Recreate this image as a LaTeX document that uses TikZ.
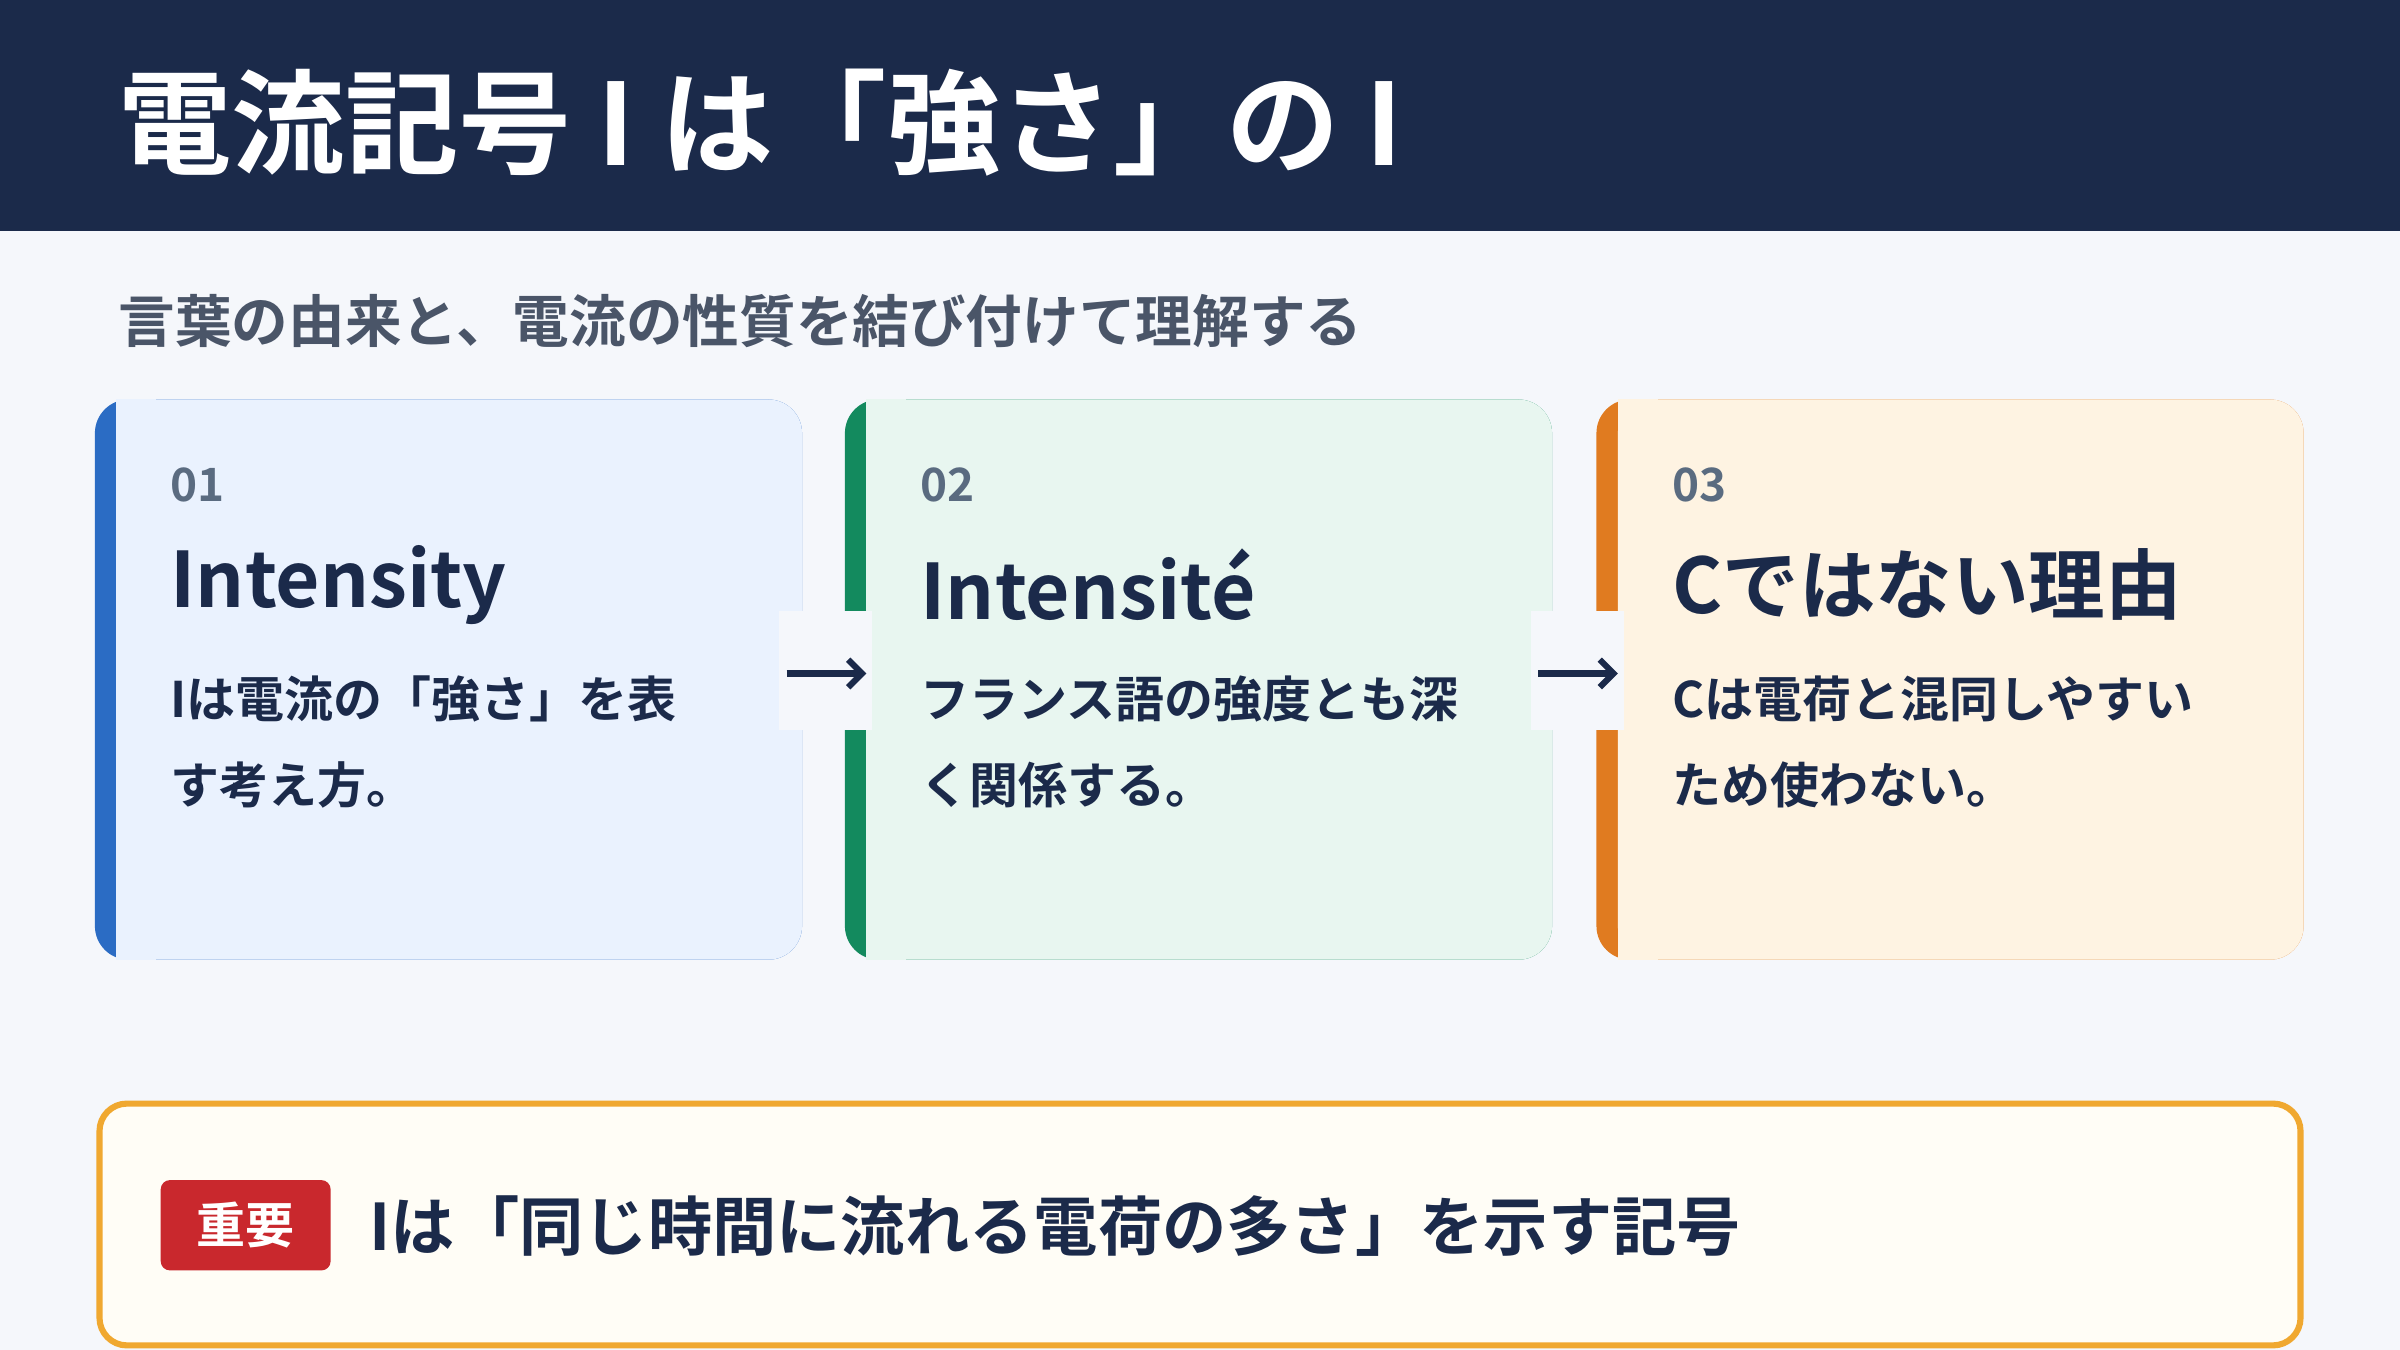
\documentclass[tikz,border=0pt]{standalone}
\usepackage{fontspec}
\setmainfont{Noto Sans CJK JP}[BoldFont={Noto Sans CJK JP Bold}]
\usetikzlibrary{arrows.meta}
\definecolor{navy}{HTML}{1B2A4A}
\definecolor{pagebg}{HTML}{F5F7FB}
\definecolor{subgray}{HTML}{4A5568}
\definecolor{numgray}{HTML}{5A6B80}
\definecolor{cblue}{HTML}{2B6CC4}\definecolor{fblue}{HTML}{EAF2FE}
\definecolor{cgreen}{HTML}{138A5E}\definecolor{fgreen}{HTML}{E8F6F0}
\definecolor{corange}{HTML}{E07B20}\definecolor{forange}{HTML}{FEF3E2}
\definecolor{gold}{HTML}{F0A830}\definecolor{noteBg}{HTML}{FFFDF6}
\definecolor{badge}{HTML}{C9282D}
\tikzset{
 num/.style={anchor=west,font=\fontsize{30}{30}\selectfont\bfseries,text=numgray},
 ttl/.style={anchor=west,font=\fontsize{50}{50}\selectfont\bfseries,text=navy},
 body/.style={anchor=north west,align=left,font=\fontsize{32}{56}\selectfont\bfseries,text=navy},
 arr/.style={-{Straight Barb[length=9pt,width=18pt,line width=4pt]},line width=4.5pt,navy},
 gap/.style={fill=pagebg,draw=none}
}
\begin{document}
\begin{tikzpicture}[x=1pt,y=-1pt]
\useasboundingbox (0,0) rectangle (1568,882);
\fill[pagebg] (0,0) rectangle (1568,882);
\fill[navy] (0,0) rectangle (1568,151);
\node[anchor=west,text=white,font=\fontsize{74}{74}\selectfont\bfseries] (title) at (74,80) {電流記号 I は「強さ」の I};
\node[anchor=west,text=subgray,font=\fontsize{37}{37}\selectfont\bfseries] (sub) at (74,210) {言葉の由来と、電流の性質を結び付けて理解する};
% cards
\foreach \x/\c/\f in {62/cblue/fblue,552/cgreen/fgreen,1043/corange/forange}{
  \fill[\c,rounded corners=22pt] (\x,261) rectangle (\x+462,627);
  \fill[\f,rounded corners=22pt] (\x+14,261) rectangle (\x+462,627);
  \fill[\f] (\x+14,261) rectangle (\x+40,627);
}
\node[num] (n1) at (108,317) {01};
\node[ttl] (t1) at (108,382) {Intensity};
\node[body] (b1) at (108,438) {Iは電流の「強さ」を表\\す考え方。};
\node[num] (n2) at (598,317) {02};
\node[ttl] (t2) at (598,382) {Intensité};
\node[body] (b2) at (598,438) {フランス語の強度とも深\\く関係する。};
\node[num] (n3) at (1089,317) {03};
\node[ttl] (t3) at (1089,382) {Cではない理由};
\node[body] (b3) at (1089,438) {Cは電荷と混同しやすい\\ため使わない。};
% gaps with arrows
\fill[gap] (509,399) rectangle (570,477);
\fill[gap] (1000,399) rectangle (1061,477);
\coordinate (a1s) at (514,440); \coordinate (a1e) at (566,440);
\coordinate (a2s) at (1005,440); \coordinate (a2e) at (1057,440);
\draw[arr] (a1s) -- (a1e);
\draw[arr] (a2s) -- (a2e);
% note
\draw[gold,line width=4pt,fill=noteBg,rounded corners=18pt] (65,721) rectangle (1503,879);
\node[fill=badge,text=white,rounded corners=6pt,minimum width=111pt,minimum height=59pt,inner sep=0pt,font=\fontsize{32}{32}\selectfont\bfseries] (badge) at (160.5,800.5) {重要};
\node[anchor=west,text=navy,font=\fontsize{42}{42}\selectfont\bfseries] (note) at (238,801) {Iは「同じ時間に流れる電荷の多さ」を示す記号};
\end{tikzpicture}
\end{document}
